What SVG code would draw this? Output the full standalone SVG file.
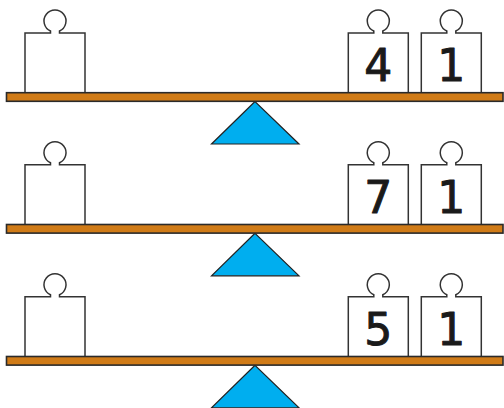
<svg xmlns="http://www.w3.org/2000/svg" width="504" height="408" viewBox="0 0 504 408">
<style>
.w{fill:#fff;stroke:#333;stroke-width:1.5}
.bar{fill:#D07B17;stroke:#2a2a2a;stroke-width:1.6}
.ful{fill:#00AEEF;stroke:#222;stroke-width:1.2}
.num{font-family:"DejaVu Sans",sans-serif;font-size:44px;fill:#1a1a1a;stroke:#1a1a1a;stroke-width:1;stroke-linejoin:round;text-anchor:middle}
</style>
<defs>
<path id="wt" class="w" d="M-30,60 V0 H-4.5 V-2 A11,11 0 1 1 4.5,-2 V0 H30 V60"/>
</defs>
<g id="row1">
<g id="fulcrum1"><polygon class="ful" points="255,101.5 211.5,144 299,144"/></g>
<g id="left1"><use href="#wt" x="55" y="33"/></g>
<g id="w4"><use href="#wt" x="378.3" y="33"/><text class="num" x="378.3" y="81">4</text></g>
<g id="w1a"><use href="#wt" x="451.3" y="33"/><text class="num" x="451.3" y="81">1</text></g>
<g id="bar1"><rect class="bar" x="6.5" y="92.7" width="496.5" height="8.6"/></g>
</g>
<g id="row2" transform="translate(0,131.8)">
<g id="fulcrum2"><polygon class="ful" points="255,101.5 211.5,144 299,144"/></g>
<g id="left2"><use href="#wt" x="55" y="33"/></g>
<g id="w7"><use href="#wt" x="378.3" y="33"/><text class="num" x="378.3" y="81">7</text></g>
<g id="w1b"><use href="#wt" x="451.3" y="33"/><text class="num" x="451.3" y="81">1</text></g>
<g id="bar2"><rect class="bar" x="6.5" y="92.7" width="496.5" height="8.6"/></g>
</g>
<g id="row3" transform="translate(0,263.8)">
<g id="fulcrum3"><polygon class="ful" points="255,101.5 211.5,144 299,144"/></g>
<g id="left3"><use href="#wt" x="55" y="33"/></g>
<g id="w5"><use href="#wt" x="378.3" y="33"/><text class="num" x="378.3" y="81">5</text></g>
<g id="w1c"><use href="#wt" x="451.3" y="33"/><text class="num" x="451.3" y="81">1</text></g>
<g id="bar3"><rect class="bar" x="6.5" y="92.7" width="496.5" height="8.6"/></g>
</g>
</svg>
